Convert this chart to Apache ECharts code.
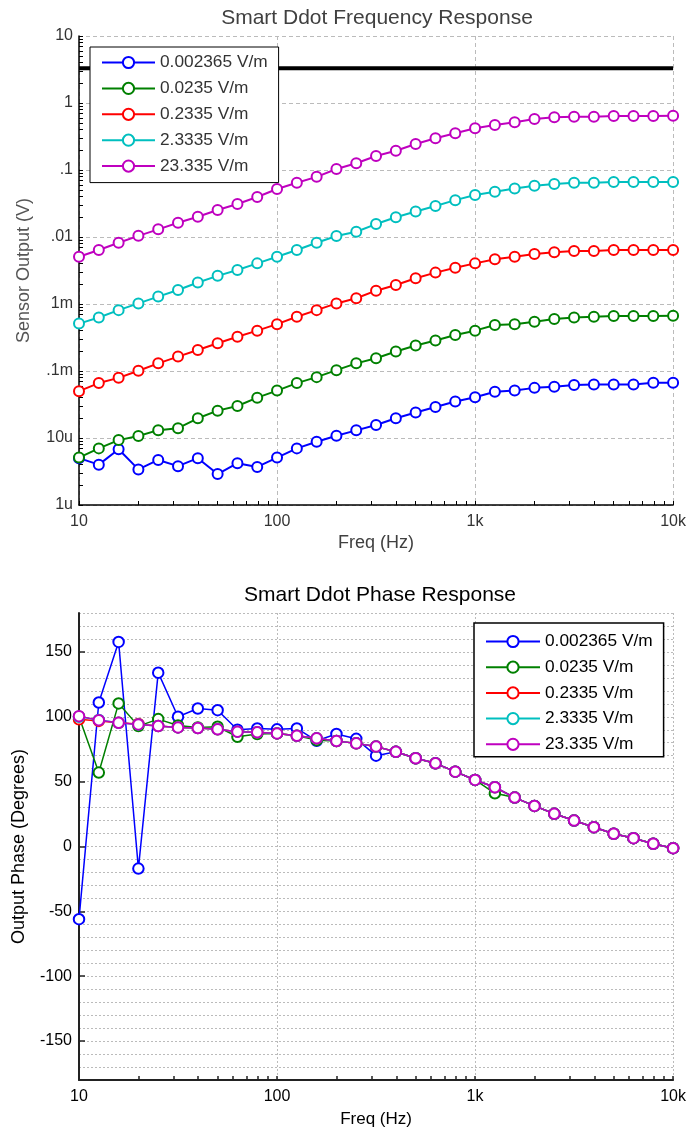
<!DOCTYPE html>
<html>
<head>
<meta charset="utf-8">
<script src="https://cdn.jsdelivr.net/npm/echarts@6/dist/echarts.min.js"></script>
<style>
  html, body { margin: 0; padding: 0; background: #fff; }
  #chart { width: 689px; height: 1133px; }
</style>
</head>
<body>
<div id="chart"></div>
<script>
// Test frequencies (Hz), ten points per decade
const freqs = [10, 12.59, 15.85, 19.95, 25.12, 31.62, 39.81, 50.12, 63.1, 79.43,
  100, 125.9, 158.5, 199.5, 251.2, 316.2, 398.1, 501.2, 631, 794.3,
  1000, 1259, 1585, 1995, 2512, 3162, 3981, 5012, 6310, 7943, 10000];

const seriesNames = ['0.002365 V/m', '0.0235 V/m', '0.2335 V/m', '2.3335 V/m', '23.335 V/m'];
const seriesColors = ['#0000ff', '#008000', '#ff0000', '#00bfbf', '#bf00bf'];

// Sensor output amplitude (V)
const amp0 = [5.0e-6, 4.0e-6, 6.8e-6, 3.4e-6, 4.7e-6, 3.8e-6, 5.0e-6, 2.9e-6, 4.2e-6, 3.7e-6,
  5.1e-6, 7.0e-6, 8.8e-6, 1.08e-5, 1.3e-5, 1.56e-5, 1.97e-5, 2.4e-5, 2.9e-5, 3.5e-5,
  4.05e-5, 4.9e-5, 5.1e-5, 5.6e-5, 5.8e-5, 6.2e-5, 6.3e-5, 6.3e-5, 6.3e-5, 6.7e-5, 6.7e-5];
const amp1 = [5.1e-6, 7.0e-6, 9.3e-6, 1.07e-5, 1.31e-5, 1.40e-5, 1.97e-5, 2.56e-5, 3.0e-5, 4.0e-5,
  5.1e-5, 6.6e-5, 8.1e-5, 1.03e-4, 1.30e-4, 1.55e-4, 1.95e-4, 2.4e-4, 2.85e-4, 3.45e-4,
  4.0e-4, 4.86e-4, 5.0e-4, 5.45e-4, 5.97e-4, 6.3e-4, 6.45e-4, 6.6e-4, 6.6e-4, 6.6e-4, 6.7e-4];
const amp2 = [5.0e-5, 6.6e-5, 7.9e-5, 1.01e-4, 1.30e-4, 1.64e-4, 2.06e-4, 2.59e-4, 3.25e-4, 4.0e-4,
  5.0e-4, 6.45e-4, 8.1e-4, 1.02e-3, 1.22e-3, 1.58e-3, 1.92e-3, 2.42e-3, 2.94e-3, 3.48e-3,
  4.04e-3, 4.65e-3, 5.08e-3, 5.57e-3, 5.9e-3, 6.17e-3, 6.2e-3, 6.4e-3, 6.4e-3, 6.4e-3, 6.4e-3];
const amp3 = [5.1e-4, 6.3e-4, 8.1e-4, 1.02e-3, 1.29e-3, 1.62e-3, 2.09e-3, 2.63e-3, 3.22e-3, 4.04e-3,
  5.08e-3, 6.4e-3, 8.2e-3, 1.035e-2, 1.2e-2, 1.56e-2, 1.97e-2, 2.4e-2, 2.9e-2, 3.55e-2,
  4.24e-2, 4.75e-2, 5.3e-2, 5.8e-2, 6.2e-2, 6.45e-2, 6.45e-2, 6.6e-2, 6.6e-2, 6.6e-2, 6.6e-2];
const amp4 = [0.00508, 0.0064, 0.0082, 0.0104, 0.0130, 0.0163, 0.0201, 0.0253, 0.0311, 0.0395,
  0.052, 0.0646, 0.079, 0.1035, 0.126, 0.162, 0.194, 0.244, 0.297, 0.353,
  0.419, 0.47, 0.515, 0.577, 0.612, 0.625, 0.625, 0.64, 0.64, 0.64, 0.646];

// Saturation level of the sensor output (V)
const limitLevel = 3.3;

// Output phase (degrees)
const phase0 = [-56, 111, 157.7, -17, 134, 100, 106.4, 105.1, 90, 91,
  90.3, 91, 81.5, 86.7, 83, 70, 73, 68, 64.1, 57.7,
  51.3, 45.7, 37.7, 31.3, 25.2, 20, 14.9, 9.8, 6.4, 2.1, -1.3];
const phase1 = [100, 57, 110.3, 92.8, 98.2, 93.3, 91.8, 92.3, 84.6, 86.7,
  87.2, 85.4, 82, 81.3, 79.5, 77, 73, 68, 64.1, 57.7,
  51.3, 41, 37.7, 31.3, 25.2, 20, 14.9, 9.8, 6.4, 2.1, -1.3];
const phase2 = [98, 96.8, 95.4, 94.4, 92.8, 91.8, 91.3, 90.3, 88.5, 88,
  87.2, 85.4, 83.4, 81.3, 79.5, 77, 73, 68, 64.1, 57.7,
  51.3, 45.7, 37.7, 31.3, 25.2, 20, 14.9, 9.8, 6.4, 2.1, -1.3];
const phase3 = [100, 97.6, 95.4, 94.1, 92.8, 91.8, 91.3, 90.3, 88.5, 88,
  87.2, 85.4, 83.4, 81.3, 79.5, 77, 73, 68, 64.1, 57.7,
  51.3, 45.7, 37.7, 31.3, 25.2, 20, 14.9, 9.8, 6.4, 2.1, -1.3];
const phase4 = [100.5, 97.4, 95.4, 94.1, 92.8, 91.8, 91.3, 90.3, 88.5, 88,
  87.2, 85.4, 83.4, 81.3, 79.5, 77, 73, 68, 64.1, 57.7,
  51.3, 45.7, 37.7, 31.3, 25.2, 20, 14.9, 9.8, 6.4, 2.1, -1.3];

const ampSets = [amp0, amp1, amp2, amp3, amp4];
const phaseSets = [phase0, phase1, phase2, phase3, phase4];

// Tick labels
const freqLabels = { 1: '10', 2: '100', 3: '1k', 4: '10k' };
const ampLabels = { 1: '10', 0: '1', '-1': '.1', '-2': '.01', '-3': '1m', '-4': '.1m', '-5': '10u', '-6': '1u' };
const phaseLabels = [-150, -100, -50, 0, 50, 100, 150];

// 1-2-...-9 tick positions on a log axis between two decades
function logTicks(lo, hi) {
  const out = [];
  for (let d = lo; d < hi; d++) {
    for (let k = 1; k < 10; k++) out.push(k * Math.pow(10, d));
  }
  out.push(Math.pow(10, hi));
  return out;
}

const font = '"Liberation Sans", Arial, sans-serif';

const ampSeries = ampSets.map((vals, i) => ({
  name: seriesNames[i],
  type: 'line',
  xAxisIndex: 0, yAxisIndex: 0,
  data: freqs.map((f, j) => [f, vals[j]]),
  symbol: 'emptyCircle',
  symbolSize: 10,
  color: seriesColors[i],
  lineStyle: { width: 2, color: seriesColors[i] },
  itemStyle: { color: seriesColors[i], borderWidth: 2 },
  z: 3 + i,
  animation: false
}));

const limitSeries = {
  name: 'limit',
  type: 'line',
  xAxisIndex: 0, yAxisIndex: 0,
  data: [[freqs[0], limitLevel], [freqs[freqs.length - 1], limitLevel]],
  symbol: 'none',
  lineStyle: { width: 4, color: '#000' },
  z: 2,
  silent: true,
  animation: false
};

const phaseSeries = phaseSets.map((vals, i) => ({
  name: seriesNames[i],
  type: 'line',
  xAxisIndex: 1, yAxisIndex: 1,
  data: freqs.map((f, j) => [f, vals[j]]),
  symbol: 'emptyCircle',
  symbolSize: 10.5,
  color: seriesColors[i],
  lineStyle: { width: 1.5, color: seriesColors[i] },
  itemStyle: { color: seriesColors[i], borderWidth: 1.4 },
  z: 3 + i,
  animation: false
}));

// Axis that only draws tick marks at the given values
function tickOnlyAxis(base, values, tickStyle) {
  return Object.assign({}, base, {
    axisLine: { show: false, onZero: false },
    axisLabel: { show: false },
    splitLine: { show: false },
    axisTick: Object.assign({ show: true, inside: true, customValues: values }, tickStyle)
  });
}

const chart = echarts.init(document.getElementById('chart'), null, { renderer: 'canvas' });

chart.setOption({
  backgroundColor: '#fff',
  animation: false,
  textStyle: { fontFamily: font },
  title: [
    {
      text: 'Smart Ddot Frequency Response',
      left: 372, top: 3, textAlign: 'center',
      textStyle: { fontSize: 21, fontWeight: 'normal', color: '#404040', fontFamily: font }
    },
    {
      text: 'Smart Ddot Phase Response',
      left: 375, top: 580, textAlign: 'center',
      textStyle: { fontSize: 21, fontWeight: 'normal', color: '#000', fontFamily: font }
    }
  ],
  legend: [
    {
      data: seriesNames,
      orient: 'vertical',
      left: 90, top: 47,
      padding: [7, 11, 8, 11],
      itemGap: 8.9,
      itemWidth: 53, itemHeight: 14,
      backgroundColor: '#fff',
      borderColor: '#000', borderWidth: 1,
      textStyle: { fontSize: 17.3, lineHeight: 16, color: '#333', fontFamily: font },
      selectedMode: false
    },
    {
      data: seriesNames,
      orient: 'vertical',
      left: 474, top: 623,
      padding: [10, 11, 4, 11],
      itemGap: 8.7,
      itemWidth: 54, itemHeight: 14,
      backgroundColor: '#fff',
      borderColor: '#000', borderWidth: 1.5,
      textStyle: { fontSize: 17.3, lineHeight: 16, color: '#000', fontFamily: font },
      selectedMode: false
    }
  ],
  grid: [
    { left: 79, right: 15, top: 36, height: 469, containLabel: false },
    { left: 79, right: 15, top: 613, height: 467, containLabel: false }
  ],
  xAxis: [
    {
      type: 'log', logBase: 10, gridIndex: 0,
      min: 10, max: 10000, splitNumber: 3,
      name: 'Freq (Hz)', nameLocation: 'middle', nameGap: 29,
      nameTextStyle: { fontSize: 18, color: '#404040', fontFamily: font },
      axisLine: { show: true, onZero: false, lineStyle: { color: '#000', width: 1.5 } },
      axisTick: { show: false },
      axisLabel: {
        fontSize: 16, color: '#333', margin: 9, fontFamily: font,
        formatter: v => freqLabels[Math.round(Math.log10(v))] || ''
      },
      splitLine: { show: true, lineStyle: { color: '#bbb', type: [4, 3], width: 1 } }
    },
    {
      type: 'log', logBase: 10, gridIndex: 1,
      min: 10, max: 10000, splitNumber: 3,
      name: 'Freq (Hz)', nameLocation: 'middle', nameGap: 31,
      nameTextStyle: { fontSize: 17, color: '#000', fontFamily: font },
      axisLine: { show: true, onZero: false, lineStyle: { color: '#222', width: 2 } },
      axisTick: { show: false },
      axisLabel: {
        fontSize: 16, color: '#000', margin: 9, fontFamily: font,
        formatter: v => freqLabels[Math.round(Math.log10(v))] || ''
      },
      splitLine: { show: true, lineStyle: { color: '#bbb', type: [2, 2], width: 1 } }
    },
    tickOnlyAxis({ type: 'log', logBase: 10, gridIndex: 0, min: 10, max: 10000, position: 'bottom' },
      logTicks(1, 4), { length: 4, lineStyle: { color: '#000', width: 1 } }),
    tickOnlyAxis({ type: 'log', logBase: 10, gridIndex: 1, min: 10, max: 10000, position: 'bottom' },
      logTicks(1, 4), { length: 4, lineStyle: { color: '#222', width: 1.5 } })
  ],
  yAxis: [
    {
      type: 'log', logBase: 10, gridIndex: 0,
      min: 1e-6, max: 10, splitNumber: 7,
      name: 'Sensor Output (V)', nameLocation: 'middle', nameGap: 46,
      nameTextStyle: { fontSize: 18, color: '#555', fontFamily: font },
      axisLine: { show: true, onZero: false, lineStyle: { color: '#000', width: 1.5 } },
      axisTick: { show: false },
      axisLabel: {
        fontSize: 16, color: '#333', margin: 6, fontFamily: font,
        formatter: v => ampLabels[Math.round(Math.log10(v))] || ''
      },
      splitLine: { show: true, lineStyle: { color: '#bbb', type: [4, 3], width: 1 } }
    },
    {
      type: 'value', gridIndex: 1,
      min: -180, max: 180, interval: 10,
      name: 'Output Phase (Degrees)', nameLocation: 'middle', nameGap: 51,
      nameTextStyle: { fontSize: 18, color: '#000', fontFamily: font },
      axisLine: { show: true, onZero: false, lineStyle: { color: '#222', width: 2 } },
      axisTick: { show: false },
      axisLabel: {
        fontSize: 16, color: '#000', margin: 7, fontFamily: font,
        formatter: v => (Math.round(v) % 50 === 0 && Math.abs(v) < 180) ? String(Math.round(v)) : ''
      },
      splitLine: { show: true, lineStyle: { color: '#bbb', type: [2, 2], width: 1 } }
    },
    tickOnlyAxis({ type: 'log', logBase: 10, gridIndex: 0, min: 1e-6, max: 10, position: 'left' },
      logTicks(-6, 1), { length: 4, lineStyle: { color: '#000', width: 1 } }),
    tickOnlyAxis({ type: 'value', gridIndex: 1, min: -180, max: 180, interval: 10, position: 'left' },
      phaseLabels, { length: 6, lineStyle: { color: '#222', width: 1.5 } })
  ],
  series: [limitSeries].concat(ampSeries, phaseSeries)
});
</script>
</body>
</html>
